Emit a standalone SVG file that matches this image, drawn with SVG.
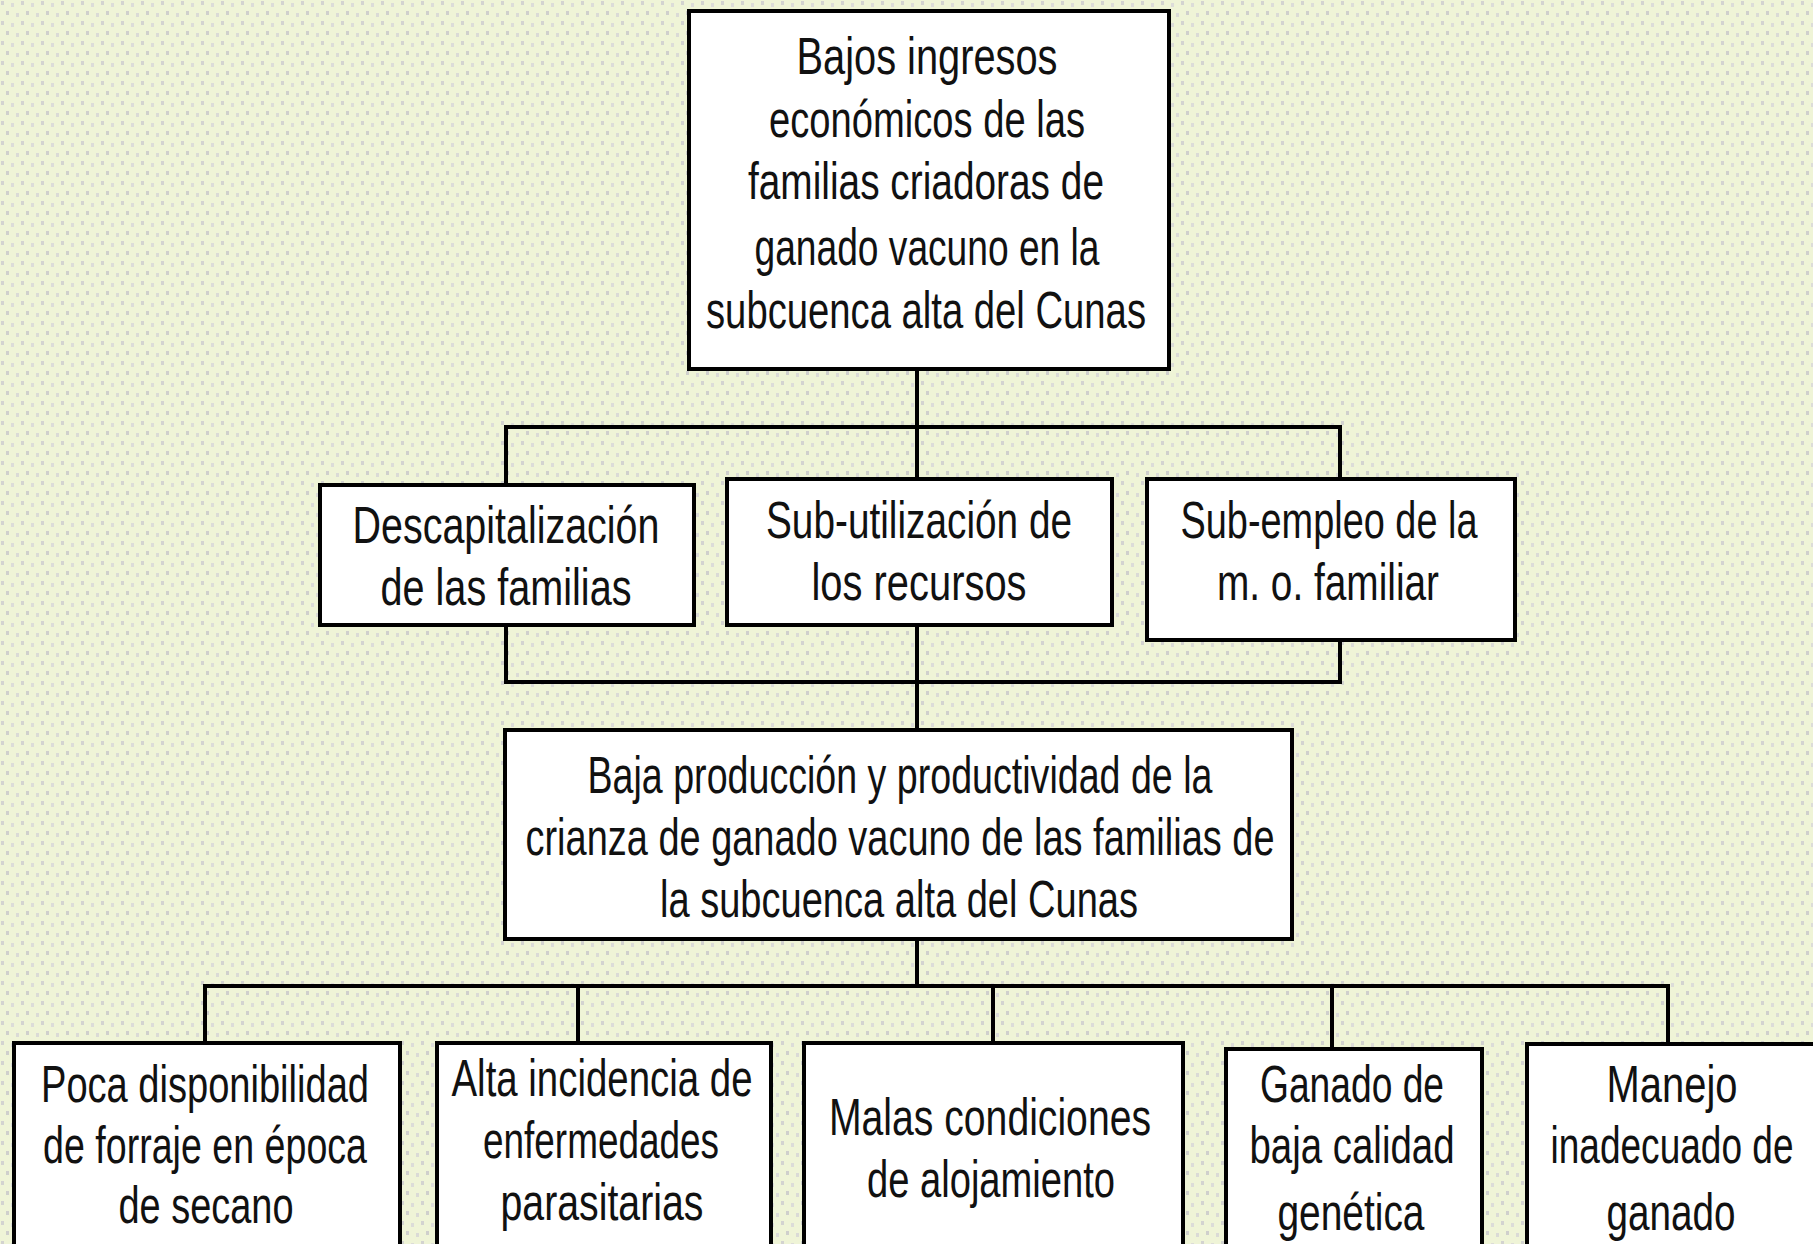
<svg xmlns="http://www.w3.org/2000/svg" width="1813" height="1244" viewBox="0 0 1813 1244">
<defs>
<pattern id="dots" width="20" height="20" patternUnits="userSpaceOnUse">
<rect width="20" height="20" fill="#eff4d7"/>
<rect x="1" y="1" width="3" height="4" fill="#d3d3d0"/>
<rect x="11" y="3" width="3" height="4" fill="#dcdcd8"/>
<rect x="6" y="11" width="3" height="4" fill="#cfcfcc"/>
<rect x="16" y="13" width="3" height="4" fill="#dadad6"/>
</pattern>
<style>
.box{fill:#ffffff;stroke:#000000;stroke-width:4}
.con{fill:none;stroke:#000000;stroke-width:4;stroke-linejoin:miter;stroke-linecap:square}
text{font-family:"Liberation Sans","Arial",sans-serif;font-size:52px;fill:#111111;text-anchor:middle}
</style>
</defs>
<rect x="0" y="0" width="1813" height="1244" fill="url(#dots)"/>

<g id="connectors">
<path class="con" d="M917 369 V479"/>
<path class="con" d="M506 485 V427 H1340 V479"/>
<path class="con" d="M506 625 V682 H1340 V640"/>
<path class="con" d="M917 625 V730"/>
<path class="con" d="M917 939 V986"/>
<path class="con" d="M205 1043 V986 H1668 V1044"/>
<path class="con" d="M578 986 V1043"/>
<path class="con" d="M993 986 V1043"/>
<path class="con" d="M1332 986 V1049"/>
</g>

<g id="node-bajos-ingresos">
<rect class="box" x="689" y="11" width="480" height="358"/>
<text x="927" y="74" textLength="261" lengthAdjust="spacingAndGlyphs">Bajos ingresos</text>
<text x="927" y="137" textLength="316" lengthAdjust="spacingAndGlyphs">económicos de las</text>
<text x="926" y="199" textLength="356" lengthAdjust="spacingAndGlyphs">familias criadoras de</text>
<text x="927" y="265" textLength="345" lengthAdjust="spacingAndGlyphs">ganado vacuno en la</text>
<text x="926" y="328" textLength="440" lengthAdjust="spacingAndGlyphs">subcuenca alta del Cunas</text>
</g>

<g id="node-descapitalizacion">
<rect class="box" x="320" y="485" width="374" height="140"/>
<text x="506" y="543" textLength="307" lengthAdjust="spacingAndGlyphs">Descapitalización</text>
<text x="506" y="605" textLength="251" lengthAdjust="spacingAndGlyphs">de las familias</text>
</g>

<g id="node-subutilizacion">
<rect class="box" x="727" y="479" width="385" height="146"/>
<text x="919" y="538" textLength="306" lengthAdjust="spacingAndGlyphs">Sub-utilización de</text>
<text x="919" y="600" textLength="215" lengthAdjust="spacingAndGlyphs">los recursos</text>
</g>

<g id="node-subempleo">
<rect class="box" x="1147" y="479" width="368" height="161"/>
<text x="1329" y="538" textLength="297" lengthAdjust="spacingAndGlyphs">Sub-empleo de la</text>
<text x="1328" y="600" textLength="222" lengthAdjust="spacingAndGlyphs">m. o. familiar</text>
</g>

<g id="node-baja-produccion">
<rect class="box" x="505" y="730" width="787" height="209"/>
<text x="900" y="793" textLength="625" lengthAdjust="spacingAndGlyphs">Baja producción y productividad de la</text>
<text x="900" y="855" textLength="749" lengthAdjust="spacingAndGlyphs">crianza de ganado vacuno de las familias de</text>
<text x="899" y="917" textLength="478" lengthAdjust="spacingAndGlyphs">la subcuenca alta del Cunas</text>
</g>

<g id="node-poca-disponibilidad">
<rect class="box" x="14" y="1043" width="386" height="260"/>
<text x="205" y="1102" textLength="328" lengthAdjust="spacingAndGlyphs">Poca disponibilidad</text>
<text x="205" y="1163" textLength="324" lengthAdjust="spacingAndGlyphs">de forraje en época</text>
<text x="206" y="1223" textLength="175" lengthAdjust="spacingAndGlyphs">de secano</text>
</g>

<g id="node-alta-incidencia">
<rect class="box" x="437" y="1043" width="334" height="260"/>
<text x="602" y="1096" textLength="301" lengthAdjust="spacingAndGlyphs">Alta incidencia de</text>
<text x="601" y="1158" textLength="236" lengthAdjust="spacingAndGlyphs">enfermedades</text>
<text x="602" y="1220" textLength="203" lengthAdjust="spacingAndGlyphs">parasitarias</text>
</g>

<g id="node-malas-condiciones">
<rect class="box" x="804" y="1043" width="379" height="260"/>
<text x="990" y="1135" textLength="322" lengthAdjust="spacingAndGlyphs">Malas condiciones</text>
<text x="991" y="1197" textLength="248" lengthAdjust="spacingAndGlyphs">de alojamiento</text>
</g>

<g id="node-ganado-baja-calidad">
<rect class="box" x="1226" y="1049" width="256" height="260"/>
<text x="1352" y="1102" textLength="184" lengthAdjust="spacingAndGlyphs">Ganado de</text>
<text x="1352" y="1163" textLength="205" lengthAdjust="spacingAndGlyphs">baja calidad</text>
<text x="1351" y="1230" textLength="147" lengthAdjust="spacingAndGlyphs">genética</text>
</g>

<g id="node-manejo-inadecuado">
<rect class="box" x="1527" y="1044" width="330" height="260"/>
<text x="1672" y="1102" textLength="131" lengthAdjust="spacingAndGlyphs">Manejo</text>
<text x="1672" y="1163" textLength="243" lengthAdjust="spacingAndGlyphs">inadecuado de</text>
<text x="1671" y="1230" textLength="129" lengthAdjust="spacingAndGlyphs">ganado</text>
</g>
</svg>
